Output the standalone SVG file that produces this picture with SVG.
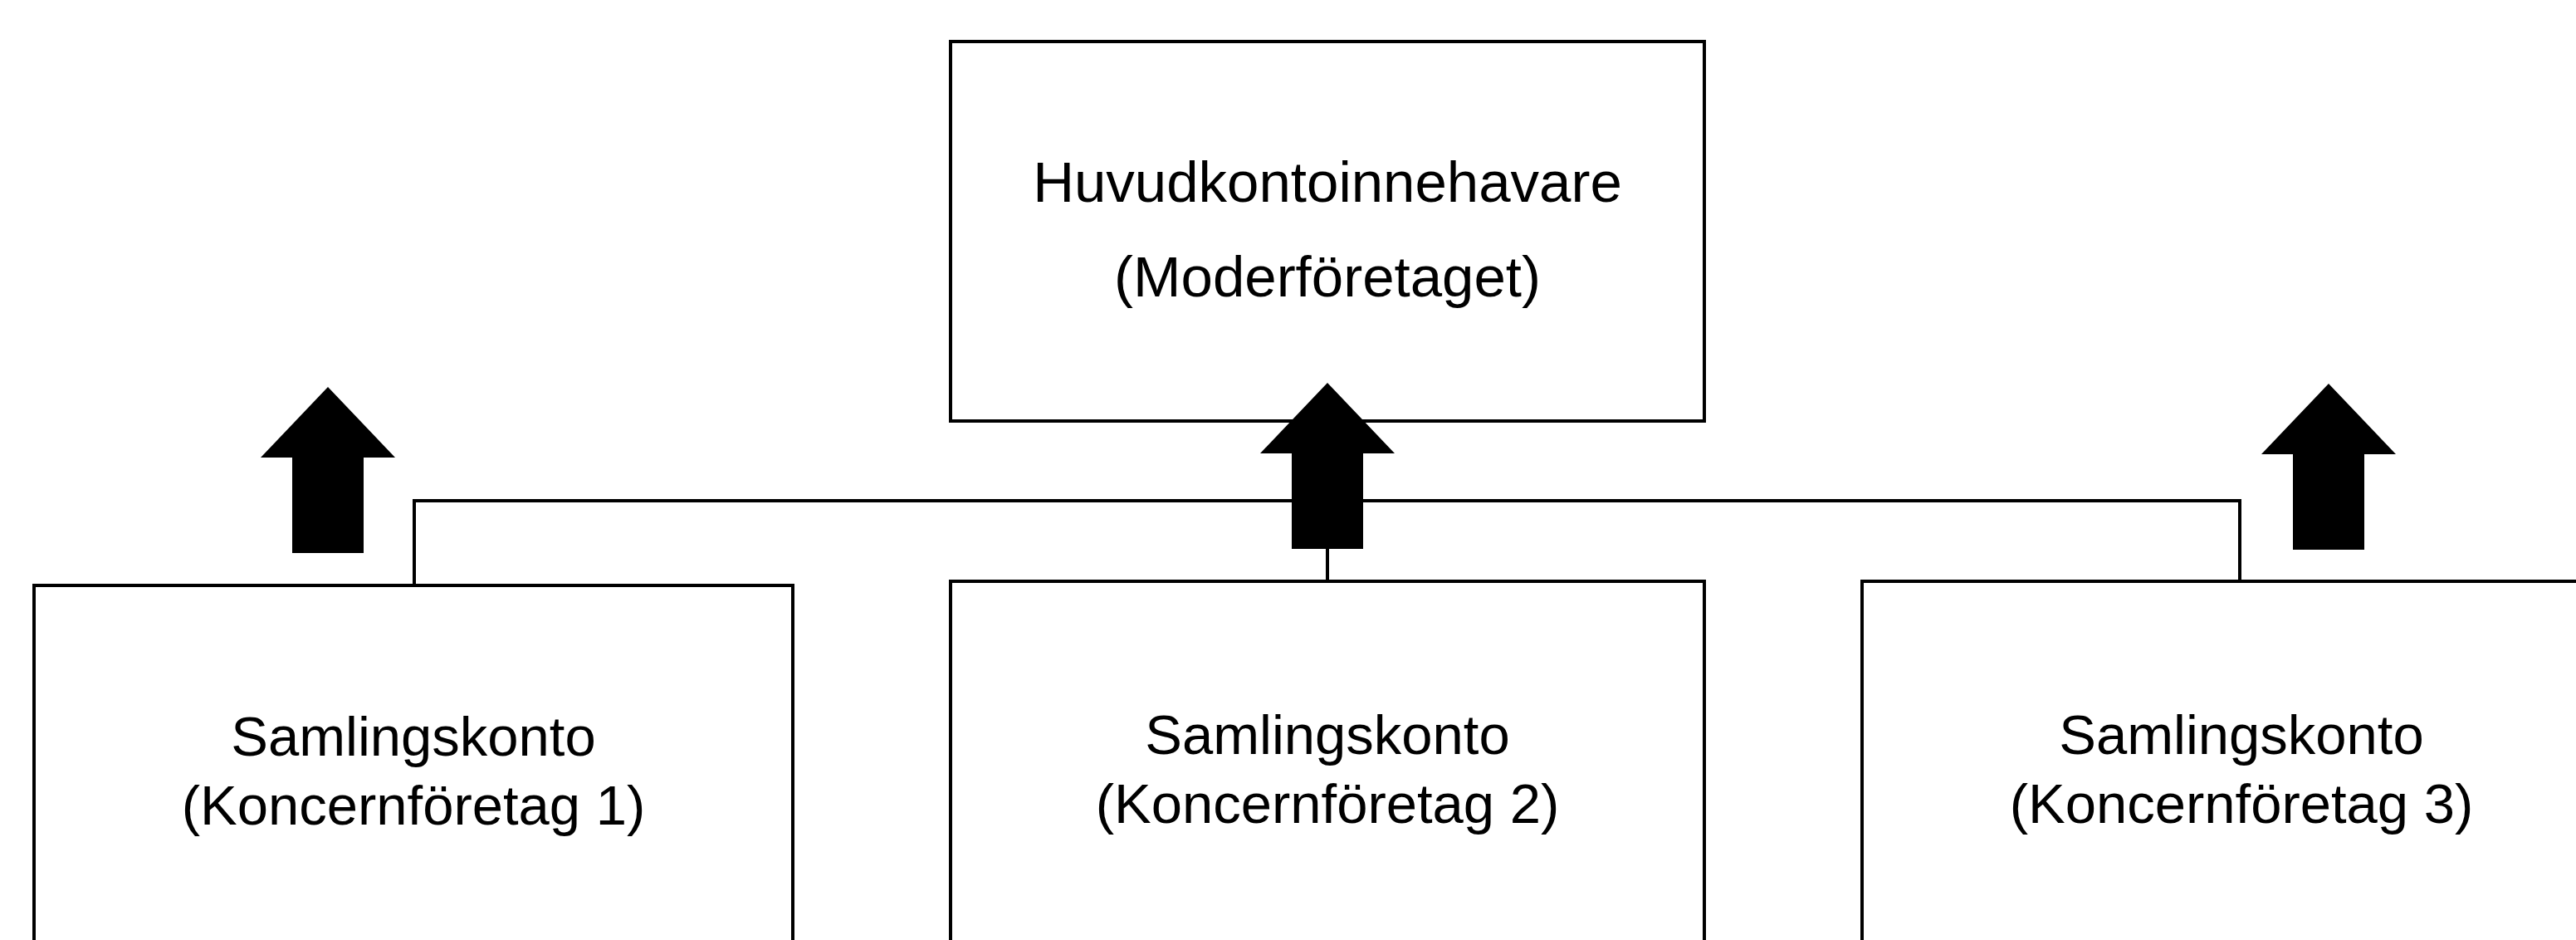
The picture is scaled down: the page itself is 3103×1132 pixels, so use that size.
<svg xmlns="http://www.w3.org/2000/svg" width="3103" height="1132" viewBox="0 0 3103 1132">
<style>
.box{fill:#fff;stroke:#000;stroke-width:4}
.lbl{font-family:"Liberation Sans",Arial,sans-serif;fill:#000;text-anchor:middle}
.top{font-size:69px}
.sub{font-size:67px}
.wire{fill:none;stroke:#000;stroke-width:4}
.blk{fill:#000}
</style>
<defs>
<path id="up" d="M0,0 L81,85 L43,85 L43,200 L-43,200 L-43,85 L-81,85 Z"/>
</defs>
<rect width="3103" height="1132" fill="#fff"/>
<g id="node-parent">
<rect class="box" x="1145" y="50" width="908" height="457"/>
<text class="lbl top" x="1599" y="243">Huvudkontoinnehavare</text>
<text class="lbl top" x="1599" y="357">(Moderföretaget)</text>
</g>
<g id="node-k1">
<rect class="box" x="41" y="705" width="914" height="500"/>
<text class="lbl sub" x="498" y="910">Samlingskonto</text>
<text class="lbl sub" x="498" y="993">(Koncernföretag 1)</text>
</g>
<g id="node-k2">
<rect class="box" x="1145" y="700" width="908" height="500"/>
<text class="lbl sub" x="1599" y="908">Samlingskonto</text>
<text class="lbl sub" x="1599" y="991">(Koncernföretag 2)</text>
</g>
<g id="node-k3">
<rect class="box" x="2243" y="700" width="914" height="500"/>
<text class="lbl sub" x="2700" y="908">Samlingskonto</text>
<text class="lbl sub" x="2700" y="991">(Koncernföretag 3)</text>
</g>
<g id="connectors">
<path class="wire" d="M499,705 V603 H2698 V700"/>
<line class="wire" x1="1599" y1="655" x2="1599" y2="700"/>
<use href="#up" class="blk" x="395" y="466"/>
<use href="#up" class="blk" x="1599" y="461"/>
<use href="#up" class="blk" x="2805" y="462"/>
</g>
</svg>
